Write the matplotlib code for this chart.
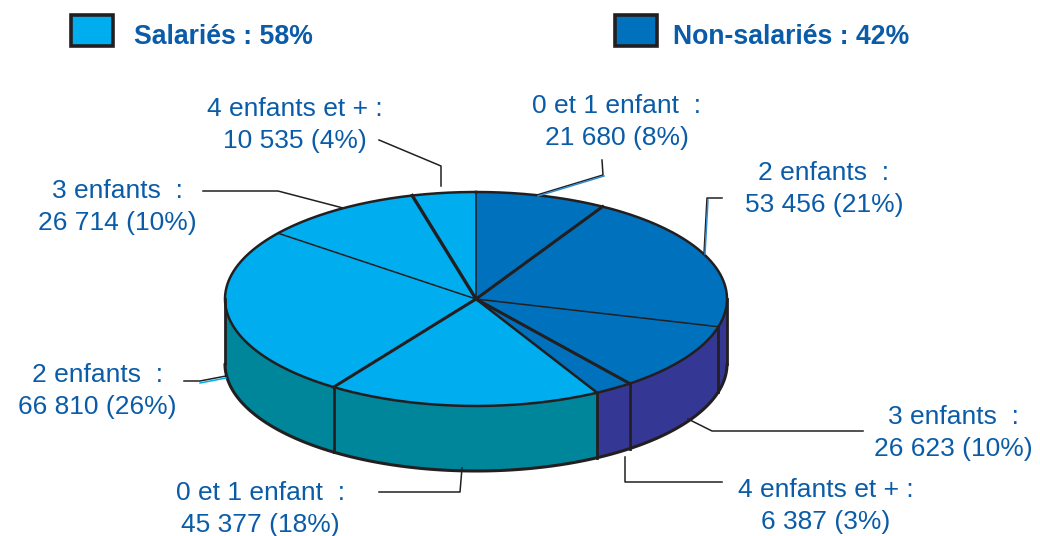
import numpy as np
import matplotlib
matplotlib.use('Agg')
from matplotlib import pyplot as plt
from matplotlib.patches import Polygon, Rectangle

plt.rcParams['font.family'] = ['Liberation Sans', 'DejaVu Sans']

# data, clockwise from the top of the pie
names = ['0 et 1 enfant  :', '2 enfants  :', '3 enfants  :', '4 enfants et + :',
         '0 et 1 enfant  :', '2 enfants  :', '3 enfants  :', '4 enfants et + :']
values = [21680, 53456, 26623, 6387, 45377, 66810, 26714, 10535]
shares = [8, 21, 10, 3, 18, 26, 10, 4]
groups = ['non', 'non', 'non', 'non', 'sal', 'sal', 'sal', 'sal']
legend_names = ['Salariés : 58%', 'Non-salariés : 42%']

top_colors = {'sal': '#00AEEF', 'non': '#0071BC'}
side_colors = {'sal': '#00869B', 'non': '#353795'}
text_color = '#0A5CA8'
edge = '#231F20'

# spoke widths at the start of each slice
spoke_lw = [1.1, 2.2, 1.1, 2.2, 1.8, 2.2, 1.1, 2.4]

# label centre positions in pixels
label_xy = [(617, 122), (824, 189), (953, 433), (826, 506),
            (260, 509), (97, 391), (117, 207), (295, 125)]

# leader lines in pixels
leaders = [[(602, 160), (603, 175), (537, 195)],
           [(722, 198), (707, 198), (704, 254)],
           [(863, 431), (712, 431), (688, 419)],
           [(625, 457), (625, 482), (722, 482)],
           [(379, 492), (460, 492), (462, 468)],
           [(184, 381), (200, 381), (226, 376)],
           [(203, 191), (278, 191), (343, 208)],
           [(379, 140), (441, 166), (441, 186)]]

# small coloured slips beside some leaders in the print
slips = [([(538, 196), (604, 176)], '#2E8BD0'),
         ([(708, 200), (705, 254)], '#2E8BD0'),
         ([(200, 383), (226, 378)], '#00AEEF')]

cx, cy, rx, ry, depth = 476, 299, 251, 107, 65

fig = plt.figure(figsize=(10.4, 5.36), dpi=100)
ax = fig.add_axes([0, 0, 1, 1])
ax.set_xlim(0, 1040)
ax.set_ylim(536, 0)
ax.axis('off')


def rim(a, b, n=100):
    # points on the ellipse, angles clockwise from the top
    t = np.radians(np.linspace(a, b, n))
    return np.column_stack((cx + rx * np.sin(t), cy - ry * np.cos(t)))


ends = np.cumsum(values) / sum(values) * 360
starts = np.concatenate(([0], ends[:-1]))

# sides of the drum, only the front half shows
for a, b, g in zip(starts, ends, groups):
    a2, b2 = max(a, 90), min(b, 270)
    if a2 >= b2:
        continue
    pts = rim(a2, b2)
    low = pts[::-1] + [0, depth]
    ax.add_patch(Polygon(np.vstack((pts, low)), closed=True, fc=side_colors[g], ec='none', zorder=1))
    ax.plot(low[:, 0], low[:, 1], color=edge, lw=2.2, zorder=3, solid_capstyle='round')
    if a2 == a:
        ax.plot([pts[0, 0], pts[0, 0]], [pts[0, 1], pts[0, 1] + depth], color=edge, lw=2, zorder=3)

for x in (cx - rx, cx + rx):
    ax.plot([x, x], [cy, cy + depth], color=edge, lw=2, zorder=3)

# top of the pie
for a, b, g in zip(starts, ends, groups):
    ax.add_patch(Polygon(np.vstack(([cx, cy], rim(a, b))), closed=True, fc=top_colors[g], ec=top_colors[g], lw=0.3, zorder=2))

whole = rim(0, 360, 400)
ax.plot(whole[:, 0], whole[:, 1], color=edge, lw=1.8, zorder=4)
for a, lw in zip(starts, spoke_lw):
    p = rim(a, a, 1)[0]
    ax.plot([cx, p[0]], [cy, p[1]], color=edge, lw=lw, zorder=4)

# leaders and labels
for line in leaders:
    xs, ys = zip(*line)
    ax.plot(xs, ys, color=edge, lw=1.1, zorder=5)
for line, c in slips:
    xs, ys = zip(*line)
    ax.plot(xs, ys, color=c, lw=1.1, zorder=5)

for name, v, s, (x, y) in zip(names, values, shares, label_xy):
    txt = name + '\n' + f'{v:,}'.replace(',', ' ') + f' ({s}%)'
    ax.text(x, y, txt, ha='center', va='center', fontsize=19, color=text_color, linespacing=1.45, zorder=6)

# legend
for x, g, t, tx in zip((71, 615), ('sal', 'non'), legend_names, (134, 673)):
    ax.add_patch(Rectangle((x, 15), 42, 31, fc=top_colors[g], ec=edge, lw=2.6, zorder=5))
    ax.text(tx, 37, t, ha='left', va='center', fontsize=19.2, fontweight='bold', color=text_color)

fig.savefig('out.png', dpi=100)
